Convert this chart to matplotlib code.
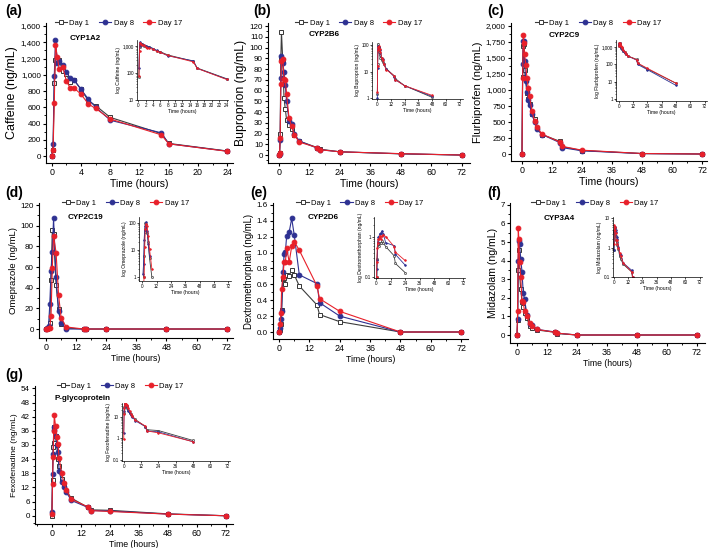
import matplotlib
matplotlib.use('Agg')
import numpy as np
import matplotlib.pyplot as plt
from matplotlib.ticker import FuncFormatter, MultipleLocator, FixedLocator, NullFormatter

plt.rcParams['font.family'] = ['Liberation Sans', 'DejaVu Sans']

# ---------------- data ----------------
t_caf = [0, 0.17, 0.33, 0.5, 0.75, 1, 1.5, 2, 2.5, 3, 4, 5, 6, 8, 15, 16, 24]
caf_d1 = [0, 70, 900, 1180, 1200, 1180, 1050, 1010, 910, 940, 820, 680, 620, 475, 275, 155, 62]
caf_d8 = [0, 150, 980, 1430, 1140, 1170, 1120, 1030, 960, 940, 820, 700, 600, 440, 285, 150, 60]
caf_d17 = [0, 80, 650, 1370, 1220, 1070, 1090, 920, 840, 840, 760, 640, 585, 455, 260, 150, 58]

t_std = [0, 0.25, 0.5, 0.75, 1, 1.5, 2, 2.5, 3, 4, 5, 6, 8, 15, 16, 24, 48, 72]
bup_d1 = [0, 1.5, 20, 90, 114, 88, 53, 43, 33, 28, 24, 19, 13, 7, 5.5, 3, 1.1, 0]
bup_d8 = [0, 1, 14, 72, 92, 86, 77, 65, 50, 32, 29, 20, 13, 6.5, 5, 3, 1.2, 0]
bup_d17 = [0, 1.7, 16, 66, 87, 89, 71, 70, 57, 34, 27, 19, 12, 7, 5, 3, 1.3, 0]

flu_d1 = [0, 1200, 1680, 1720, 1320, 1150, 960, 860, 780, 630, 540, 400, 305, 200, 115, 55, 8, 0]
flu_d8 = [0, 1400, 1760, 1770, 1460, 1140, 970, 850, 770, 620, 500, 390, 305, 180, 100, 50, 6, 0]
flu_d17 = [0, 1180, 1860, 1740, 1570, 1390, 1180, 1030, 900, 670, 520, 420, 310, 190, 120, 60, 8, 0]

t_ome = [0, 0.5, 1, 1.5, 2, 2.5, 3, 4, 5, 6, 8, 15, 16, 24, 48, 72]
ome_d1 = [0, 0, 1, 6, 47, 96, 92, 43, 19, 5, 1, 0, 0, 0, 0, 0]
ome_d8 = [0, 1.3, 3, 24, 56, 75, 107, 50, 17, 6, 0, 0, 0, 0, 0, 0]
ome_d17 = [0, 0, 0.5, 1, 13, 59, 90, 74, 33, 11, 2, 0, 0, 0, 0, 0]

t_dex = [0, 0.5, 0.75, 1, 1.5, 2, 2.5, 3, 4, 5, 6, 8, 15, 16, 24, 48, 72]
dex_d1 = [0, 0.02, 0.1, 0.28, 0.67, 0.68, 0.61, 0.72, 0.71, 0.78, 0.72, 0.58, 0.34, 0.22, 0.13, 0, 0]
dex_d8 = [0, 0.05, 0.16, 0.27, 0.75, 0.98, 1.01, 1.21, 1.26, 1.43, 1.22, 0.72, 0.61, 0.37, 0.20, 0, 0]
dex_d17 = [0, 0.10, 0.24, 0.54, 0.69, 0.88, 0.88, 1.06, 0.88, 1.08, 1.14, 1.03, 0.58, 0.42, 0.26, 0, 0]

mid_d1 = [0, 0.8, 3.5, 4.55, 3.3, 2.45, 1.8, 1.5, 1.2, 0.9, 0.5, 0.4, 0.27, 0.15, 0.08, 0, 0, 0]
mid_d8 = [0, 0.85, 4.0, 5.05, 4.9, 4.1, 3.4, 2.25, 1.95, 1.05, 0.6, 0.55, 0.3, 0.17, 0.1, 0, 0, 0]
mid_d17 = [0, 1.28, 5.75, 5.15, 3.9, 3.1, 1.85, 1.75, 1.3, 1.0, 0.65, 0.5, 0.3, 0.15, 0.1, 0, 0, 0]

fex_d1 = [0, 15, 29, 31, 37.5, 34, 30, 24, 21, 15.5, 13.5, 10.5, 7.5, 3.5, 2.5, 2.3, 0.8, 0]
fex_d8 = [1.7, 17.5, 26, 36.5, 37.5, 34, 30, 27, 19, 14.5, 12, 10, 6.5, 3.5, 2.2, 2.0, 0.7, 0]
fex_d17 = [0.9, 13.5, 25, 36, 42.5, 38, 33.5, 30.5, 24.5, 18, 14, 11, 7, 3.7, 2.2, 1.8, 0.7, 0]

series_labels = ['Day 1', 'Day 8', 'Day 17']
panel_letters = ['(a)', '(b)', '(c)', '(d)', '(e)', '(f)', '(g)']
enzymes = ['CYP1A2', 'CYP2B6', 'CYP2C9', 'CYP2C19', 'CYP2D6', 'CYP3A4', 'P-glycoprotein']
drugs = ['Caffeine', 'Buproprion', 'Flurbiprofen', 'Omeprazole', 'Dextromethorphan',
         'Midazolam', 'Fexofenadine']

# ---------------- style ----------------
C1, C8, C17 = '#3c3c3c', '#2e3192', '#e8202a'
W, H = 709, 548
fig = plt.figure(figsize=(W / 100, H / 100), dpi=100)


def rect(l, t, r, b):
    return [l / W, 1 - b / H, (r - l) / W, (b - t) / H]


comma = FuncFormatter(lambda v, p: f'{v:,.0f}')
integer = FuncFormatter(lambda v, p: f'{v:.0f}')
one_dec = FuncFormatter(lambda v, p: f'{v:.1f}')
logfmt = FuncFormatter(lambda v, p: f'{v:,.0f}' if v >= 1 else f'{v:g}')


def style_axes(ax, lw, tl, tfs, pad):
    for s in ('top', 'right'):
        ax.spines[s].set_visible(False)
    for s in ('left', 'bottom'):
        ax.spines[s].set_linewidth(lw)
    ax.tick_params(which='major', direction='out', length=tl, width=lw, labelsize=tfs, pad=pad)
    ax.tick_params(which='minor', direction='out', length=tl * 0.55, width=lw * 0.8)


def plot_series(ax, t, ys, ms, lw, log=False):
    styles = [dict(color=C1, marker='s', mfc='white', mec=C1),
              dict(color=C8, marker='o', mfc=C8, mec=C8),
              dict(color=C17, marker='o', mfc=C17, mec=C17)]
    for y, st, lab in zip(ys, styles, series_labels):
        t_a = np.asarray(t, float)
        y_a = np.asarray(y, float)
        if log:
            keep = y_a > 0
            t_a, y_a = t_a[keep], y_a[keep]
        ax.plot(t_a, y_a, lw=lw, ms=ms, mew=lw * 0.9, label=lab, **st)


panels = [
    dict(t=t_caf, ys=(caf_d1, caf_d8, caf_d17), main=(46, 23, 233, 163), xlim=(-0.8, 24.8), ylim=(-86, 1637),
         xt=4, yt=200, yminor=100, yf=comma, ylfs=9.0, xlfs=7.5, leg=0.048, lab=(0.128, 0.89),
         ins=(137, 40, 228, 100), ixlim=(-0.35, 24.4), iylim=(10, 1700), ixt=2, iyt=[10, 100, 1000]),
    dict(t=t_std, ys=(bup_d1, bup_d8, bup_d17), main=(268, 23, 470, 163), xlim=(-4.3, 75.2), ylim=(-7.4, 122.8),
         xt=12, yt=10, yminor=5, yf=integer, ylfs=8.8, xlfs=7.5, leg=0.134, lab=(0.2, 0.92),
         ins=(372, 42, 463, 99), ixlim=(-4.4, 75), iylim=(0.95, 130), ixt=12, iyt=[1, 10, 100]),
    dict(t=t_std, ys=(flu_d1, flu_d8, flu_d17), main=(511, 23, 707, 161), xlim=(-4.4, 74), ylim=(-109, 2047),
         xt=12, yt=250, yminor=125, yf=comma, ylfs=8.0, xlfs=7.6, leg=0.12, lab=(0.19, 0.906),
         ins=(616, 40, 707, 101), ixlim=(-2.2, 74), iylim=(0.73, 2700), ixt=12, iyt=[1, 10, 100, 1000]),
    dict(t=t_ome, ys=(ome_d1, ome_d8, ome_d17), main=(39, 203, 233, 338), xlim=(-2.8, 74.5), ylim=(-8.7, 122),
         xt=12, yt=20, yminor=10, yf=integer, ylfs=6.8, xlfs=6.3, leg=0.118, lab=(0.15, 0.896),
         ins=(139, 217, 231, 281), ixlim=(-2.8, 74.3), iylim=(0.73, 162), ixt=12, iyt=[1, 10, 100]),
    dict(t=t_dex, ys=(dex_d1, dex_d8, dex_d17), main=(273, 203, 468, 339), xlim=(-2.4, 74.7), ylim=(-0.088, 1.625),
         xt=12, yt=0.2, yminor=0.1, yf=one_dec, ylfs=6.9, xlfs=6.3, leg=0.12, lab=(0.18, 0.897),
         ins=(374, 217, 465, 278), ixlim=(-1.6, 73.4), iylim=(0.095, 3.16), ixt=12, iyt=[0.1, 1]),
    dict(t=t_std, ys=(mid_d1, mid_d8, mid_d17), main=(510, 203, 705, 343), xlim=(-2.8, 75.2), ylim=(-0.43, 7.1),
         xt=12, yt=1, yminor=0.5, yf=integer, ylfs=7.6, xlfs=6.2, leg=0.11, lab=(0.17, 0.89),
         ins=(613, 217, 702, 277), ixlim=(-0.6, 74), iylim=(0.1, 11), ixt=12, iyt=[0.1, 1, 10]),
    dict(t=t_std, ys=(fex_d1, fex_d8, fex_d17), main=(35, 386, 233, 524), xlim=(-7, 75), ylim=(-3.5, 55),
         xt=12, yt=6, yminor=3, yf=integer, ylfs=6.1, xlfs=6.3, leg=0.11, lab=(0.1, 0.913),
         ins=(122, 403, 230, 461), ixlim=(-1.2, 73.6), iylim=(0.09, 43), ixt=12, iyt=[0.1, 1, 10]),
]

for i, p in enumerate(panels):
    ax = fig.add_axes(rect(*p['main']))
    style_axes(ax, 0.8, 2.5, 5.8, 1.2)
    plot_series(ax, p['t'], p['ys'], ms=3.4, lw=0.8)
    ax.set_xlim(*p['xlim'])
    ax.set_ylim(*p['ylim'])
    ax.xaxis.set_major_locator(MultipleLocator(p['xt']))
    ax.xaxis.set_minor_locator(MultipleLocator(p['xt'] / 2))
    ax.yaxis.set_major_locator(MultipleLocator(p['yt']))
    ax.yaxis.set_minor_locator(MultipleLocator(p['yminor']))
    ax.yaxis.set_major_formatter(p['yf'])
    ax.tick_params(axis='x', labelsize=6.4)
    ax.set_xlabel('Time (hours)', fontsize=p['xlfs'], labelpad=1.5)
    ax.set_ylabel(f'{drugs[i]} (ng/mL)', fontsize=p['ylfs'], labelpad=2)
    ax.legend(ncol=3, loc='center left', bbox_to_anchor=(p['leg'], 1.0), frameon=False, fontsize=5.5,
              handlelength=1.6, handletextpad=0.3, columnspacing=1.25, borderpad=0, borderaxespad=0)
    ax.text(p['lab'][0], p['lab'][1], enzymes[i], transform=ax.transAxes, fontsize=5.8,
            fontweight='bold', va='center', ha='left')

    # inset (log scale)
    ia = fig.add_axes(rect(*p['ins']))
    style_axes(ia, 0.5, 1.3, 3.3, 0.8)
    ia.set_yscale('log')
    plot_series(ia, p['t'], p['ys'], ms=1.2, lw=0.6, log=True)
    ia.set_xlim(*p['ixlim'])
    ia.set_ylim(*p['iylim'])
    ia.xaxis.set_major_locator(MultipleLocator(p['ixt']))
    ia.yaxis.set_major_locator(FixedLocator(p['iyt']))
    ia.yaxis.set_major_formatter(logfmt)
    ia.yaxis.set_minor_formatter(NullFormatter())
    ia.set_xlabel('Time (hours)', fontsize=3.6, labelpad=1)
    ia.set_ylabel(f'log {drugs[i]} (ng/mL)', fontsize=3.6, labelpad=1)

# panel letters
letter_pos = [(5, 11), (253, 11), (487, 11), (5, 193), (250, 193), (487, 193), (5, 375)]
for (x, y), lt in zip(letter_pos, panel_letters):
    fig.text(x / W, 1 - y / H, lt, fontsize=10, fontweight='bold', va='center', ha='left')

fig.savefig('out.png', dpi=100)
